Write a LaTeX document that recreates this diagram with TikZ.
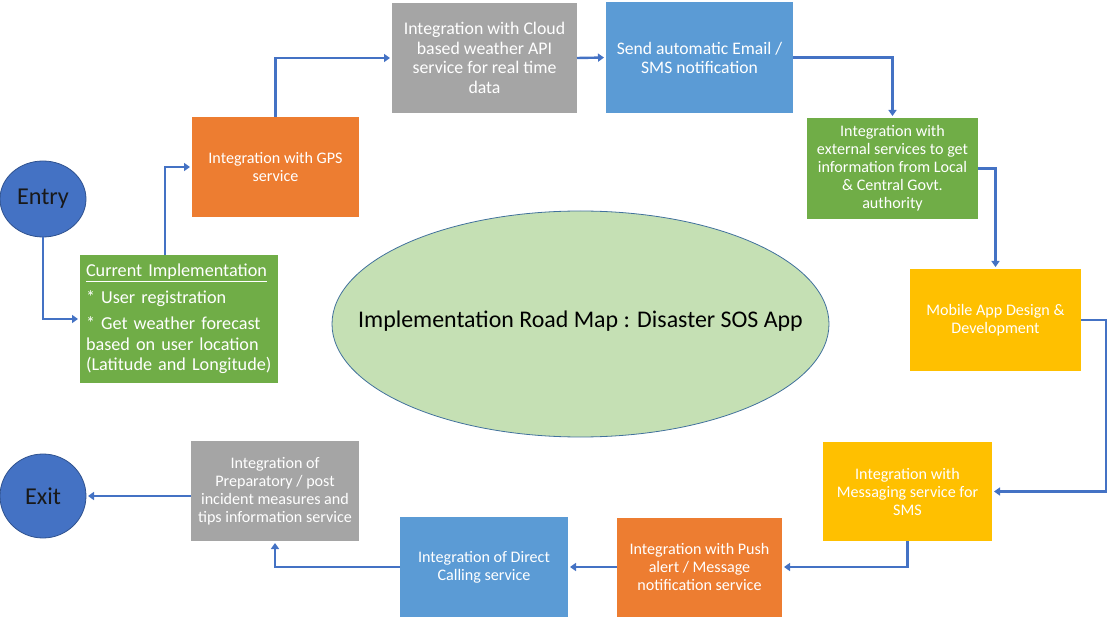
\documentclass[tikz,border=0pt]{standalone}
\usepackage{fontspec}
\setmainfont{Carlito}
\usetikzlibrary{shapes.geometric,arrows.meta}

\definecolor{flowblue}{HTML}{4472C4}
\definecolor{endline}{HTML}{2F528F}
\definecolor{boxorange}{HTML}{ED7D31}
\definecolor{boxgrey}{HTML}{A5A5A5}
\definecolor{boxblue}{HTML}{5B9BD5}
\definecolor{boxgreen}{HTML}{70AD47}
\definecolor{boxyellow}{HTML}{FFC000}
\definecolor{mapgreen}{HTML}{C5E0B4}
\definecolor{mapline}{HTML}{41719C}

\begin{document}
\begin{tikzpicture}[x=1pt, y=-1pt]
  \tikzset{StepBox/.style = {
  shape = rectangle,
  inner sep = 0pt,
  outer sep = 0pt,
  text = white,
  align = center,
  font = \fontsize{16.1}{18}\selectfont}}
  \tikzset{EndStyle/.style = {
  shape = ellipse,
  fill = flowblue,
  draw = endline,
  line width = 0.8pt,
  inner sep = 0pt,
  outer sep = 0pt,
  text = black!90,
  font = \fontsize{24.2}{27}\selectfont}}
  \tikzset{FlowArrow/.style = {
  draw = flowblue,
  line width = 2.4pt,
  -{Triangle[length=6pt, width=8pt]},
  shorten > = 2pt}}
  \useasboundingbox (0,0) rectangle (1109,620);
  \node[EndStyle, minimum width=86pt, minimum height=76pt] (entry) at (43,199) {Entry};
  \node[EndStyle, minimum width=86pt, minimum height=84pt] (exit) at (43,496) {Exit};
  \node[shape=ellipse, fill=mapgreen, draw=mapline, line width=0.8pt, inner sep=0pt,
        minimum width=497pt, minimum height=226pt] (map) at (580.5,324) {};
  \node[font=\fontsize{23.9}{26}\selectfont, inner sep=0pt] (maptext) at ([yshift=3pt]map.center)
        {Implementation Road Map : Disaster SOS App};
  \node[StepBox, fill=boxgreen, minimum width=198pt, minimum height=128pt,
        text width=186pt, inner xsep=6pt, align=left,
        font=\fontsize{18.2}{20.5}\selectfont] (cur) at (179,319)
        {\underline{Current Implementation}\\[6pt]
         * User registration\\[6pt]
         * Get weather forecast\\
         based on user location\\
         (Latitude and Longitude)};
  \node[StepBox, fill=boxorange, minimum width=167pt, minimum height=100pt] (gps) at (275.5,167)
        {Integration with GPS\\service};
  \node[StepBox, fill=boxgrey, minimum width=185pt, minimum height=110pt,
        font=\fontsize{17.8}{19.5}\selectfont] (cloud) at (484.5,58)
        {Integration with Cloud\\based weather API\\service for real time\\data};
  \node[StepBox, fill=boxblue, minimum width=187pt, minimum height=111pt,
        font=\fontsize{17.6}{19}\selectfont] (email) at (699.5,57.5)
        {Send automatic Email /\\SMS notification};
  \node[StepBox, fill=boxgreen, minimum width=171pt, minimum height=101pt] (ext) at (892.5,168.5)
        {Integration with\\external services to get\\information from Local\\\& Central Govt.\\authority};
  \node[StepBox, fill=boxyellow, minimum width=171pt, minimum height=102pt] (mobile) at (995.5,320)
        {Mobile App Design \&\\Development};
  \node[StepBox, fill=boxyellow, minimum width=169pt, minimum height=99pt] (msg) at (907.5,491.5)
        {Integration with\\Messaging service for\\SMS};
  \node[StepBox, fill=boxorange, minimum width=165pt, minimum height=99pt] (push) at (699.5,567)
        {Integration with Push\\alert / Message\\notification service};
  \node[StepBox, fill=boxblue, minimum width=168pt, minimum height=100pt] (call) at (484,567)
        {Integration of Direct\\Calling service};
  \node[StepBox, fill=boxgrey, minimum width=168pt, minimum height=100pt] (prep) at (275,491)
        {Integration of\\Preparatory / post\\incident measures and\\tips information service};
  \draw[FlowArrow] (entry.south) |- (cur.west);
  \draw[FlowArrow] ([xshift=-14pt]cur.north) |- (gps.west);
  \draw[FlowArrow] (gps.north) |- (cloud.west);
  \draw[FlowArrow] (cloud.east) -- (email.west);
  \draw[FlowArrow] (email.east) -| (ext.north);
  \draw[FlowArrow] (ext.east) -| (mobile.north);
  \draw[FlowArrow] (mobile.east) -- ++(25,0) |- (msg.east);
  \draw[FlowArrow] (msg.south) |- (push.east);
  \draw[FlowArrow] (push.west) -- (call.east);
  \draw[FlowArrow] (call.west) -| (prep.south);
  \draw[FlowArrow] (exit.east -| prep.west) -- (exit.east);
\end{tikzpicture}
\end{document}
